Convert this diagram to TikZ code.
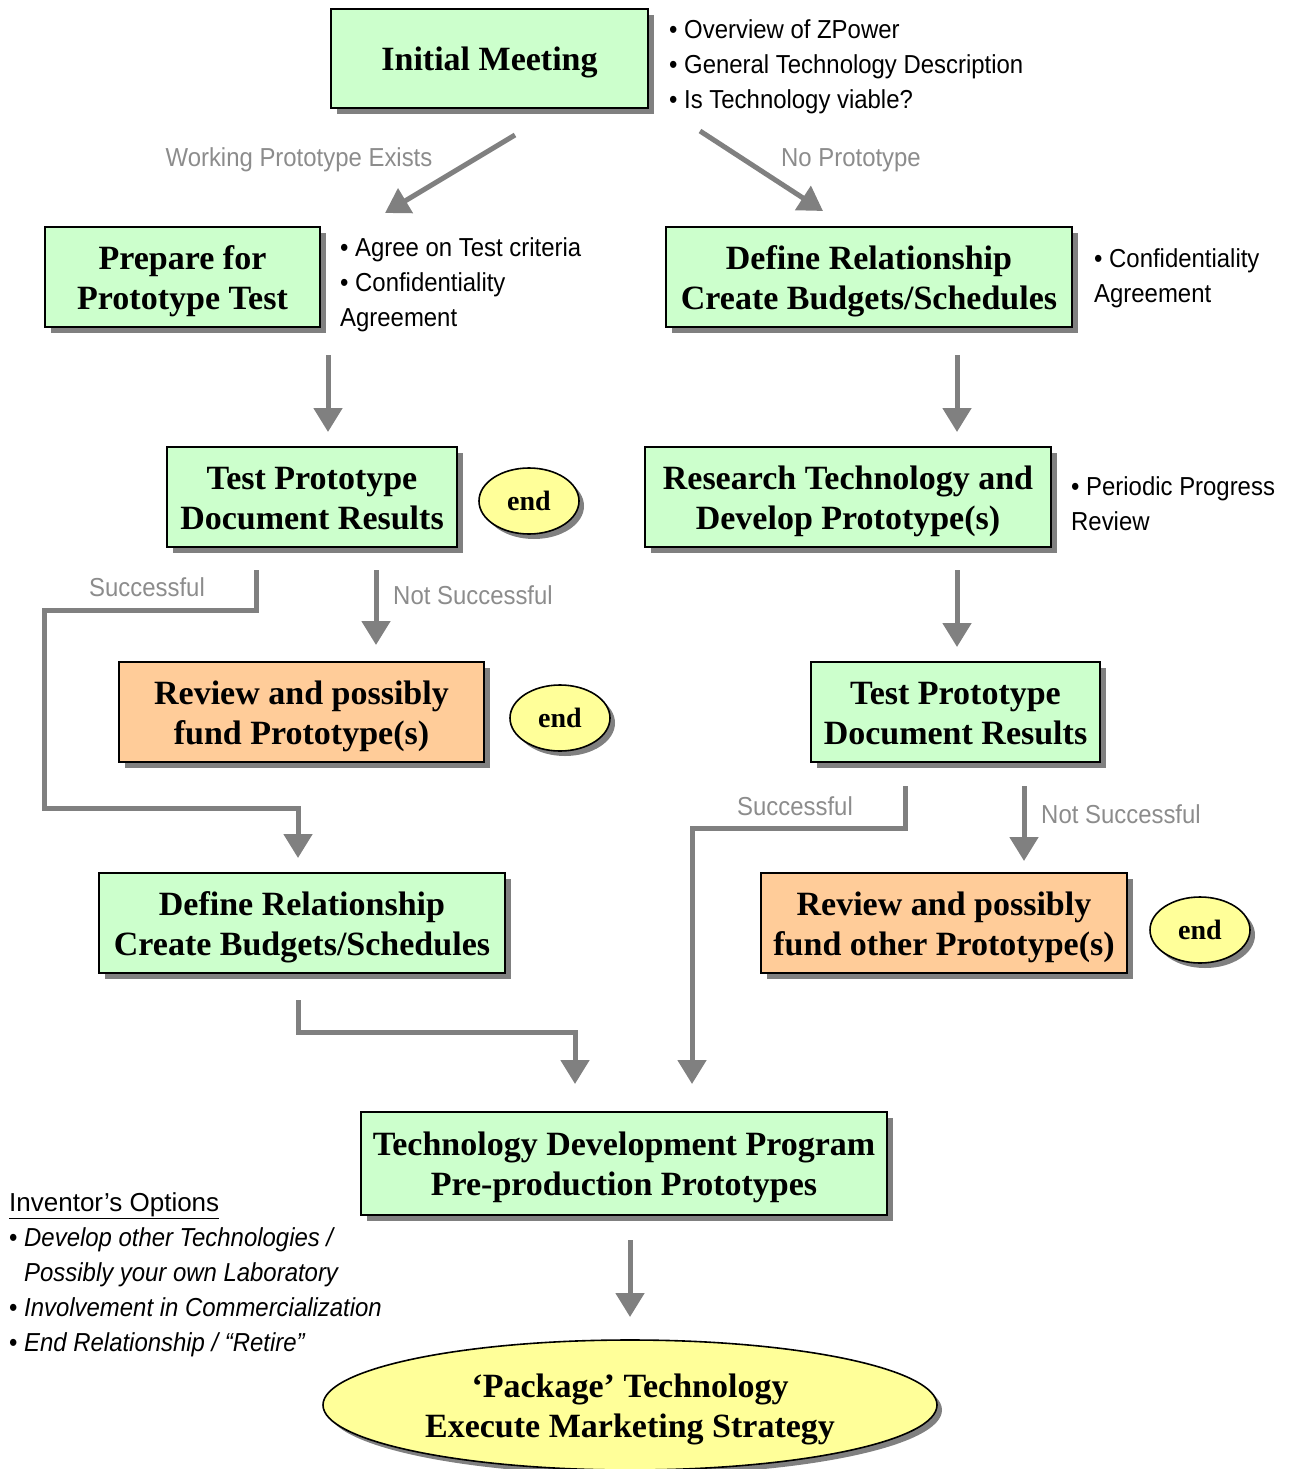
\documentclass[tikz,border=0pt]{standalone}
\usepackage{fontspec}
\setmainfont{Liberation Serif}
\newfontfamily\narrow[FakeStretch=0.92]{Liberation Sans}
\newfontfamily\plainsans{Liberation Sans}
\usetikzlibrary{arrows.meta,shadows,shapes.geometric}
\definecolor{gfill}{HTML}{CCFFCC}
\definecolor{ofill}{HTML}{FFCC99}
\definecolor{yfill}{HTML}{FFFF99}
\definecolor{arr}{HTML}{808080}
\definecolor{lbl}{HTML}{8C8C8C}
\definecolor{shd}{HTML}{808080}
\begin{document}
\begin{tikzpicture}[x=1pt,y=-1pt,
  shd/.style={drop shadow={shadow xshift=6pt, shadow yshift=-6pt, fill=shd, opacity=1}},
  boxfont/.style={font=\fontsize{34}{40}\selectfont\bfseries},
  oneline/.style={execute at begin node={\rule[-10pt]{0pt}{44pt}}},
  twoline/.style={execute at begin node={\rule[-10pt]{0pt}{84pt}}},
  box/.style={draw=black, line width=1.6pt, inner sep=0pt, align=center, boxfont, shd},
  gbox/.style={box, fill=gfill},
  obox/.style={box, fill=ofill},
  endell/.style={ellipse, draw=black, line width=1.6pt, fill=yfill, inner sep=0pt,
    minimum width=100pt, minimum height=66pt, align=center,
    font=\fontsize{28}{32}\selectfont\bfseries,
    drop shadow={shadow xshift=5pt, shadow yshift=-5pt, fill=shd, opacity=1}},
  flow/.style={draw=arr, line width=5pt, line join=miter, -{Triangle[width=28pt,length=24pt]}},
  note/.style={font=\narrow\fontsize{26}{35}\selectfont, align=left, inner sep=0pt, anchor=north west},
  glabel/.style={font=\narrow\fontsize{26}{30}\selectfont, text=lbl, inner sep=0pt}
]
\useasboundingbox (0,0) rectangle (1290,1469);

% boxes
\node[gbox, oneline, minimum width=317pt, minimum height=99pt] (im) at (489.5,58.5) {Initial Meeting};
\node[gbox, twoline, minimum width=275pt, minimum height=100pt] (prep) at (182.5,277) {Prepare for\\Prototype Test};
\node[gbox, twoline, minimum width=406pt, minimum height=100pt] (defR) at (869,277) {Define Relationship\\Create Budgets/Schedules};
\node[gbox, twoline, minimum width=290pt, minimum height=100pt] (testL) at (312,497) {Test Prototype\\Document Results};
\node[endell] (end1) at (529,501) {end};
\node[gbox, twoline, minimum width=406pt, minimum height=100pt] (res) at (848,497) {Research Technology and\\Develop Prototype(s)};
\node[obox, twoline, minimum width=365pt, minimum height=100pt] (revL) at (301.5,712) {Review and possibly\\fund Prototype(s)};
\node[endell] (end2) at (560,718) {end};
\node[gbox, twoline, minimum width=289pt, minimum height=100pt] (testR) at (955.5,712) {Test Prototype\\Document Results};
\node[gbox, twoline, minimum width=406pt, minimum height=100pt] (defL) at (302,923) {Define Relationship\\Create Budgets/Schedules};
\node[obox, twoline, minimum width=366pt, minimum height=100pt] (revR) at (944,923) {Review and possibly\\fund other Prototype(s)};
\node[endell] (end3) at (1200,930) {end};
\node[gbox, twoline, minimum width=526pt, minimum height=103pt] (tdp) at (624,1163.5) {Technology Development Program\\Pre-production Prototypes};
\node[endell, minimum width=614pt, minimum height=130pt, boxfont, twoline] (pkg) at (630,1405) {‘Package’ Technology\\Execute Marketing Strategy};

% arrow end points
\coordinate (a1s) at (515,135); \coordinate (a1e) at (385,213);
\coordinate (a2s) at (700,131); \coordinate (a2e) at (823,211);
\coordinate (a3s) at (328,355); \coordinate (a3e) at (328,432);
\coordinate (a4s) at (957,355); \coordinate (a4e) at (957,432);
\coordinate (a5s) at (256,570); \coordinate (a5e) at (298,858);
\coordinate (a6s) at (376,570); \coordinate (a6e) at (376,645);
\coordinate (a7s) at (957,570); \coordinate (a7e) at (957,647);
\coordinate (a8s) at (905,786); \coordinate (a8e) at (692,1084);
\coordinate (a9s) at (1024,786); \coordinate (a9e) at (1024,861);
\coordinate (a10s) at (298,1000); \coordinate (a10e) at (575,1084);
\coordinate (a11s) at (630,1240); \coordinate (a11e) at (630,1317);

\draw[flow] (a1s) -- (a1e);
\draw[flow] (a2s) -- (a2e);
\draw[flow] (a3s) -- (a3e);
\draw[flow] (a4s) -- (a4e);
\draw[flow] (a5s) -- ++(0,40) -| (44,808) -| (a5e);
\draw[flow] (a6s) -- (a6e);
\draw[flow] (a7s) -- (a7e);
\draw[flow] (a8s) -- ++(0,42) -| (a8e);
\draw[flow] (a9s) -- (a9e);
\draw[flow] (a10s) -- ++(0,32) -| (a10e);
\draw[flow] (a11s) -- (a11e);

% connector labels
\node[glabel] (lwp) at (299,160) {Working Prototype Exists};
\node[glabel] (lnp) at (851,160) {No Prototype};
\node[glabel] (ls1) at (147,587) {Successful};
\node[glabel] (lns1) at (473,595) {Not Successful};
\node[glabel] (ls2) at (795,806) {Successful};
\node[glabel] (lns2) at (1121,814) {Not Successful};

% notes
\node[note] (n1) at (669,19) {• Overview of ZPower\\• General Technology Description\\• Is Technology viable?};
\node[note] (n2) at (340,237) {• Agree on Test criteria\\• Confidentiality\\Agreement};
\node[note] (n3) at (1094,248) {• Confidentiality\\Agreement};
\node[note] (n4) at (1071,476) {• Periodic Progress\\Review};
\node[note] (n5) at (9,1192) {{\plainsans\underline{Inventor’s Options}}\\• \textit{Develop other Technologies /}\\\phantom{• }\textit{Possibly your own Laboratory}\\• \textit{Involvement in Commercialization}\\• \textit{End Relationship / “Retire”}};
\end{tikzpicture}
\end{document}
